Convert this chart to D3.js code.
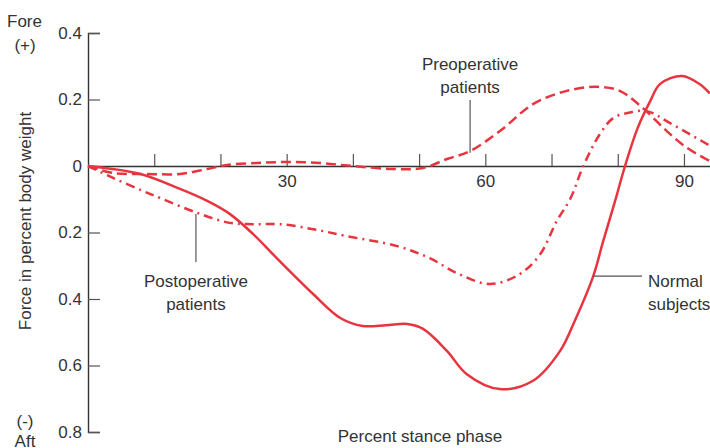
<!DOCTYPE html>
<html><head><meta charset="utf-8">
<script src="https://cdn.jsdelivr.net/npm/d3@7"></script>
<style>
body{margin:0;background:#fff}
svg{display:block;font-family:"Liberation Sans",Arial,Helvetica,sans-serif}
</style>
</head><body>
<svg id="chart" width="710" height="448"></svg>
<script>
// ---- data ----
const xTicks = [10, 20, 30, 40, 50, 60, 70, 80, 90];
const xLabeled = [30, 60, 90];
const yTicks = [0.4, 0.2, 0, -0.2, -0.4, -0.6, -0.8];

const normalX = [0, 7.9, 13.9, 18, 21.4, 24.9, 28.5, 34, 38.1, 41.5, 45, 48.2, 50.6, 54.2, 57.2, 62.2, 67.2, 71.3, 73.5, 76.3, 77.8, 79.6, 81.1, 83, 84.9, 86.4, 89.7, 92.4, 93.9];
const normalY = [0, -0.024, -0.069, -0.105, -0.144, -0.204, -0.277, -0.385, -0.457, -0.481, -0.479, -0.475, -0.49, -0.556, -0.626, -0.671, -0.646, -0.556, -0.466, -0.331, -0.226, -0.105, 0, 0.114, 0.195, 0.247, 0.271, 0.246, 0.218];

const postX = [0, 3.8, 8.3, 11.1, 16.5, 21.4, 24.9, 29, 34, 39.1, 46.7, 51.6, 55.7, 60.7, 65.2, 68.3, 70.8, 72.8, 74.8, 77.3, 79.3, 81.4, 84.4, 87.9, 94];
const postY = [0, -0.036, -0.075, -0.098, -0.141, -0.171, -0.175, -0.175, -0.19, -0.211, -0.241, -0.277, -0.322, -0.355, -0.325, -0.265, -0.165, -0.1, 0, 0.096, 0.144, 0.159, 0.165, 0.129, 0.06];

const preX = [0, 3.8, 8.9, 13.9, 18, 21, 25.5, 30, 35, 40, 46, 50.6, 54.2, 57.7, 62.2, 67.2, 72.3, 76.9, 80.3, 83.8, 87.4, 90.5, 93.9];
const preY = [0, -0.021, -0.024, -0.024, -0.009, 0.003, 0.009, 0.012, 0.009, 0, -0.009, -0.006, 0.021, 0.045, 0.105, 0.186, 0.226, 0.238, 0.226, 0.174, 0.105, 0.054, 0.015];

// ---- chart ----
const RED = "#e8343f", INK = "#333", FS = 17;
const svg = d3.select("#chart");
const x = d3.scaleLinear().domain([0, 93.93]).range([88, 710]);
const y = d3.scaleLinear().domain([-0.8, 0.4]).range([432, 33]);

// y axis
const yAxis = d3.axisLeft(y).tickValues(yTicks)
  .tickSizeInner(-12).tickSizeOuter(-12).tickPadding(6)
  .tickFormat(d => d === 0 ? "0" : d3.format(".1f")(Math.abs(d)));
const gy = svg.append("g").attr("transform", `translate(${x(0)},0)`).call(yAxis);
gy.select(".domain").attr("stroke", INK).attr("stroke-width", 1.4);
gy.selectAll(".tick line").attr("stroke", "#555").attr("stroke-width", 1.2);
gy.selectAll("text").attr("font-size", FS).attr("fill", INK).attr("font-family", null);

// x axis at zero
const xAxis = d3.axisBottom(x).tickValues(xTicks)
  .tickSizeInner(-12).tickSizeOuter(0).tickPadding(9)
  .tickFormat(d => xLabeled.includes(d) ? d : "");
const gx = svg.append("g").attr("transform", `translate(0,${y(0)})`).call(xAxis);
gx.select(".domain").attr("stroke", INK).attr("stroke-width", 1.4);
gx.selectAll(".tick line").attr("stroke", "#555").attr("stroke-width", 1.2);
gx.selectAll("text").attr("font-size", FS).attr("fill", INK).attr("font-family", null);

// lines
const line = d3.line().x(d => x(d[0])).y(d => y(d[1])).curve(d3.curveCatmullRom.alpha(0.5));
const series = [
  {xs: preX, ys: preY, dash: "10,5"},
  {xs: postX, ys: postY, dash: "9,5,2,5"},
  {xs: normalX, ys: normalY, dash: null}
];
series.forEach(s => {
  svg.append("path")
    .datum(d3.zip(s.xs, s.ys))
    .attr("d", line)
    .attr("fill", "none")
    .attr("stroke", RED)
    .attr("stroke-width", 2.5)
    .attr("stroke-dasharray", s.dash);
});

// annotations
const ann = svg.append("g").attr("fill", INK).attr("font-size", FS);
function label(lines, tx, ty, anchor) {
  const t = ann.append("text").attr("text-anchor", anchor);
  lines.forEach((l, i) => t.append("tspan").attr("x", tx).attr("y", ty + i * 23).text(l));
}
function lead(x1, y1, x2, y2) {
  svg.append("line").attr("x1", x1).attr("y1", y1).attr("x2", x2).attr("y2", y2)
    .attr("stroke", "#555").attr("stroke-width", 1.2);
}
// Preoperative
lead(x(57.7), 100, x(57.7), y(0.04));
label(["Preoperative", "patients"], x(57.7), 70, "middle");
// Postoperative
lead(x(16.3), y(-0.144), x(16.3), 262);
label(["Postoperative", "patients"], x(16.3), 287, "middle");
// Normal
lead(x(76.3), y(-0.331), 642, y(-0.331));
label(["Normal", "subjects"], 648, 287, "start");

// axis labels
const t = svg.append("g").attr("fill", INK).attr("font-size", FS);
t.append("text").attr("x", 42).attr("y", 27).attr("text-anchor", "end").text("Fore");
t.append("text").attr("x", 25).attr("y", 51).attr("text-anchor", "middle").text("(+)");
t.append("text").attr("x", 25).attr("y", 427).attr("text-anchor", "middle").text("(-)");
t.append("text").attr("x", 25).attr("y", 447).attr("text-anchor", "middle").text("Aft");
t.append("text").attr("transform", "translate(31,221) rotate(-90)").attr("text-anchor", "middle")
  .text("Force in percent body weight");
t.append("text").attr("x", 420).attr("y", 442).attr("text-anchor", "middle").text("Percent stance phase");
</script>
</body></html>
